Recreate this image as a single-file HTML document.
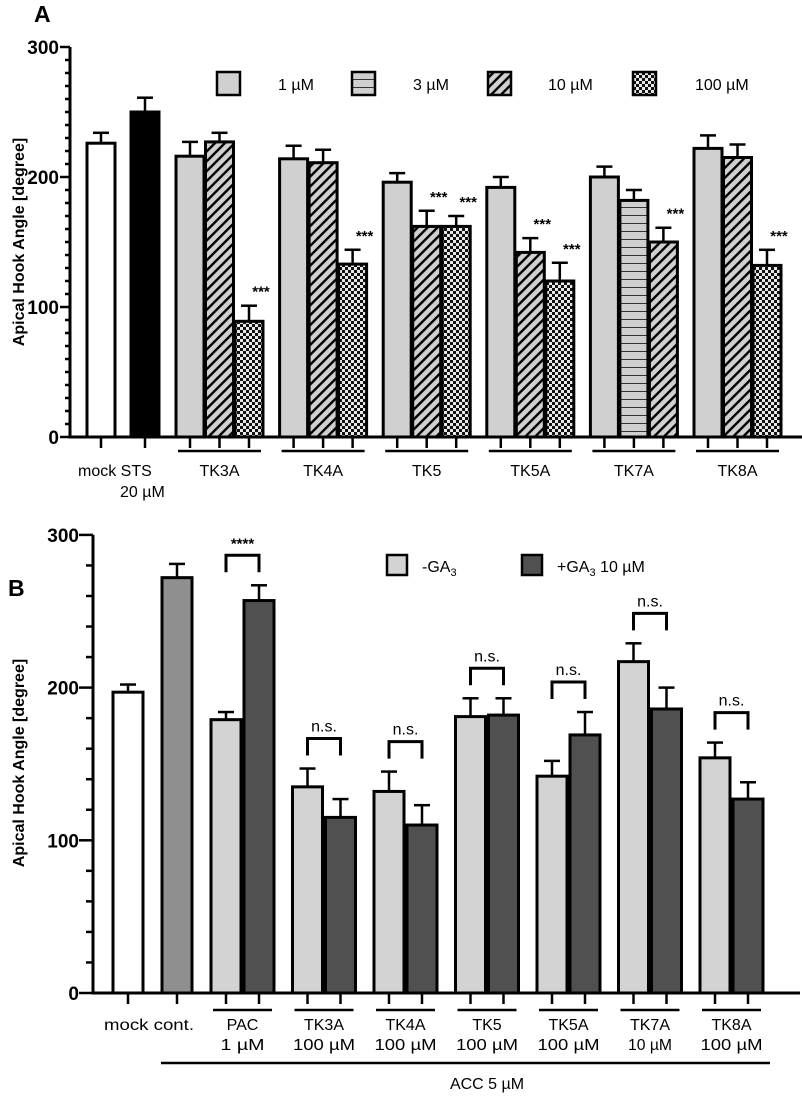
<!DOCTYPE html>
<html><head><meta charset="utf-8"><style>
body{margin:0;background:#fff;}
svg{display:block;font-family:"Liberation Sans",Arial,sans-serif;}
</style></head><body>
<svg id="c" width="802" height="1099" viewBox="0 0 802 1099" xmlns="http://www.w3.org/2000/svg">
<defs>
<pattern id="diag" patternUnits="userSpaceOnUse" width="7" height="7" patternTransform="rotate(45)">
<rect width="7" height="7" fill="#d0d0d0"/><rect width="2.4" height="7" fill="#000"/></pattern>
<pattern id="check" patternUnits="userSpaceOnUse" width="6" height="6">
<rect width="6" height="6" fill="#e8e8e8"/><rect width="3" height="3" fill="#111"/><rect x="3" y="3" width="3" height="3" fill="#111"/></pattern>
<pattern id="horiz" patternUnits="userSpaceOnUse" width="8" height="8">
<rect width="8" height="8" fill="#d0d0d0"/><rect y="7" width="8" height="1.2" fill="#333"/></pattern>
</defs>
<text x="34" y="22" font-size="23" font-weight="bold">A</text>
<text x="8" y="596" font-size="23" font-weight="bold">B</text>
<g id="A"></g><g id="B"></g>
</svg>
<script>
// Panel A data
const aCtrlLabels = ["mock", "STS"];
const aCtrlValues = [226, 250];
const aCtrlErrors = [8, 11];
const aGroups = ["TK3A", "TK4A", "TK5", "TK5A", "TK7A", "TK8A"];
const aValues = [[216, 227, 89], [214, 211, 133], [196, 162, 162], [192, 142, 120], [200, 182, 150], [222, 215, 132]];
const aErrors = [[11, 7, 12], [10, 10, 11], [7, 12, 8], [8, 11, 14], [8, 8, 11], [10, 10, 12]];
const aPatterns = [["light","diag","check"],["light","diag","check"],["light","diag","check"],["light","diag","check"],["light","horiz","diag"],["light","diag","check"]];
const aStars = [["","","***"],["","","***"],["","***","***"],["","***","***"],["","","***"],["","","***"]];
const aTicks = [0, 100, 200, 300];
const aLegend = ["1 µM", "3 µM", "10 µM", "100 µM"];
// Panel B data
const bCtrlLabels = ["mock", "cont."];
const bCtrlValues = [197, 272];
const bCtrlErrors = [5, 9];
const bGroups = ["PAC", "TK3A", "TK4A", "TK5", "TK5A", "TK7A", "TK8A"];
const bGroupSub = ["1 µM", "100 µM", "100 µM", "100 µM", "100 µM", "10 µM", "100 µM"];
const bMinus = [179, 135, 132, 181, 142, 217, 154];
const bMinusErr = [5, 12, 13, 12, 10, 12, 10];
const bPlus = [257, 115, 110, 182, 169, 186, 127];
const bPlusErr = [10, 12, 13, 11, 15, 14, 11];
const bSig = ["****", "n.s.", "n.s.", "n.s.", "n.s.", "n.s.", "n.s."];
const bTicks = [0, 100, 200, 300];

const NS = "http://www.w3.org/2000/svg";
function mk(parent, tag, attrs, txt){const e=document.createElementNS(NS,tag);for(const k in attrs)e.setAttribute(k,attrs[k]);if(txt!==undefined)e.textContent=txt;parent.appendChild(e);return e;}
const fills={light:"#d0d0d0",diag:"url(#diag)",check:"url(#check)",horiz:"url(#horiz)"};

// ---------- Panel A ----------
const gA=document.getElementById("A");
const ayA=v=>437-v*1.3;
const axA=70;
let e=mk(gA,"line",{x1:axA,y1:ayA(300),x2:axA,y2:438.5,stroke:"#000","stroke-width":3});


e=mk(gA,"line",{x1:axA,y1:437,x2:802,y2:437,stroke:"#000","stroke-width":3});


for(let v=0;v<=300;v+=10){mk(gA,"line",{x1:axA-(v%100==0?10:5),y1:ayA(v),x2:axA,y2:ayA(v),stroke:"#000","stroke-width":2.5});}
aTicks.forEach(t=>{e=mk(gA,"text",{x:axA-11,y:ayA(t)+7,"text-anchor":"end","font-size":19,"font-weight":"bold"},t);

});
e=mk(gA,"text",{transform:"translate(24,242) rotate(-90)","text-anchor":"middle","font-size":16,"font-weight":"bold"},"Apical Hook Angle [degree]");


function barA(cx,v,err,fill,name){
  const w=28;
  const r=mk(gA,"rect",{x:cx-w/2,y:ayA(v),width:w,height:437-ayA(v),fill:fill,stroke:"#000","stroke-width":3});
  
  
  mk(gA,"line",{x1:cx,y1:ayA(v),x2:cx,y2:ayA(v+err),stroke:"#000","stroke-width":2.5});
  mk(gA,"line",{x1:cx-8,y1:ayA(v+err),x2:cx+8,y2:ayA(v+err),stroke:"#000","stroke-width":2.5});
  mk(gA,"line",{x1:cx,y1:437,x2:cx,y2:448,stroke:"#000","stroke-width":2.5});
}
const aCtrlX=[101,145];
aCtrlLabels.forEach((l,i)=>barA(aCtrlX[i],aCtrlValues[i],aCtrlErrors[i],i==0?"#fff":"#000","bar-"+l));
e=mk(gA,"text",{x:78,y:476,"font-size":16},"mock STS");


e=mk(gA,"text",{x:120,y:497,"font-size":16},"20 µM");


aGroups.forEach((g,gi)=>{
  const base=190+gi*103.6;
  aValues[gi].forEach((v,j)=>{
    const cx=base+j*29.5;
    barA(cx,v,aErrors[gi][j],fills[aPatterns[gi][j]],"bar-"+g.toLowerCase()+"-"+j);
    if(aStars[gi][j]){const t=mk(gA,"text",{x:cx+12,y:ayA(v+aErrors[gi][j])-9,"text-anchor":"middle","font-size":15,"font-weight":"bold"},aStars[gi][j]);
      
      }
  });
  mk(gA,"line",{x1:base-12,y1:451,x2:base+71,y2:451,stroke:"#000","stroke-width":2.5});
  const t=mk(gA,"text",{x:base+29.5,y:476,"text-anchor":"middle","font-size":16},g);
  
  
});
const legAx=[217,352,488,633], legTx=[278,413,548,695], legF=["light","horiz","diag","check"];
aLegend.forEach((l,i)=>{
  const r=mk(gA,"rect",{x:legAx[i],y:72,width:23,height:23,fill:fills[legF[i]],stroke:"#000","stroke-width":2.5});
  
  
  const t=mk(gA,"text",{x:legTx[i],y:90,"font-size":16},l);
  
  
});

// ---------- Panel B ----------
const gB=document.getElementById("B");
const ayB=v=>993-v*1.527;
const axB=93;
e=mk(gB,"line",{x1:axB,y1:ayB(300),x2:axB,y2:994.5,stroke:"#000","stroke-width":3});


e=mk(gB,"line",{x1:axB,y1:993,x2:800,y2:993,stroke:"#000","stroke-width":3});


for(let v=0;v<=300;v+=20){mk(gB,"line",{x1:axB-(v%100==0?14:7),y1:ayB(v),x2:axB,y2:ayB(v),stroke:"#000","stroke-width":2.5});}
bTicks.forEach(t=>{e=mk(gB,"text",{x:axB-14,y:ayB(t)+7,"text-anchor":"end","font-size":19,"font-weight":"bold"},t);

});
e=mk(gB,"text",{transform:"translate(24,763) rotate(-90)","text-anchor":"middle","font-size":16,"font-weight":"bold"},"Apical Hook Angle [degree]");


function barB(cx,v,err,fill,name){
  const w=30;
  const r=mk(gB,"rect",{x:cx-w/2,y:ayB(v),width:w,height:993-ayB(v),fill:fill,stroke:"#000","stroke-width":3});
  
  
  mk(gB,"line",{x1:cx,y1:ayB(v),x2:cx,y2:ayB(v+err),stroke:"#000","stroke-width":2.5});
  mk(gB,"line",{x1:cx-8,y1:ayB(v+err),x2:cx+8,y2:ayB(v+err),stroke:"#000","stroke-width":2.5});
  mk(gB,"line",{x1:cx,y1:993,x2:cx,y2:1004,stroke:"#000","stroke-width":2.5});
}
const bCtrlX=[128,177];
bCtrlLabels.forEach((l,i)=>barB(bCtrlX[i],bCtrlValues[i],bCtrlErrors[i],i==0?"#fff":"#8f8f8f","bar-"+l.replace('.','')));
e=mk(gB,"text",{x:104,y:1030,"font-size":16,textLength:90,lengthAdjust:"spacingAndGlyphs"},"mock cont.");


bGroups.forEach((g,gi)=>{
  const c1=226+gi*81.5, c2=c1+33;
  barB(c1,bMinus[gi],bMinusErr[gi],"#d3d3d3","bar-"+g.toLowerCase()+"-minus-ga3");
  barB(c2,bPlus[gi],bPlusErr[gi],"#505050","bar-"+g.toLowerCase()+"-plus-ga3");
  const top=ayB(Math.max(bMinus[gi]+bMinusErr[gi],bPlus[gi]+bPlusErr[gi]))-30;
  const br=mk(gB,"path",{d:`M${c1} ${top+17} V${top} H${c2} V${top+17}`,fill:"none",stroke:"#000","stroke-width":3});
  
  
  const st=mk(gB,"text",{x:(c1+c2)/2,y:top-7,"text-anchor":"middle","font-size":bSig[gi]=="****"?15:16,"font-weight":bSig[gi]=="****"?"bold":"normal"},bSig[gi]);
  
  
  mk(gB,"line",{x1:c1-13,y1:1010,x2:c2+13,y2:1010,stroke:"#000","stroke-width":2.5});
  let t=mk(gB,"text",{x:(c1+c2)/2,y:1030,"text-anchor":"middle","font-size":16},g);
  
  
  t=mk(gB,"text",{x:(c1+c2)/2,y:1050,"text-anchor":"middle","font-size":16,textLength:bGroupSub[gi].length>5?62:44,lengthAdjust:"spacingAndGlyphs"},bGroupSub[gi]);
  
  
});
e=mk(gB,"line",{x1:161,y1:1063,x2:770,y2:1063,stroke:"#000","stroke-width":2.5});


e=mk(gB,"text",{x:487,y:1089,"text-anchor":"middle","font-size":16},"ACC 5 µM");


e=mk(gB,"rect",{x:387,y:555,width:20,height:20,fill:"#d3d3d3",stroke:"#000","stroke-width":2.5});


e=mk(gB,"rect",{x:522,y:555,width:20,height:20,fill:"#505050",stroke:"#000","stroke-width":2.5});


e=mk(gB,"text",{x:422,y:572,"font-size":16},"-GA");


mk(e,"tspan",{"font-size":11,dy:4},"3");
e=mk(gB,"text",{x:557,y:572,"font-size":16},"+GA");


mk(e,"tspan",{"font-size":11,dy:4},"3");
mk(e,"tspan",{dy:-4}," 10 µM");
</script>
</body></html>
